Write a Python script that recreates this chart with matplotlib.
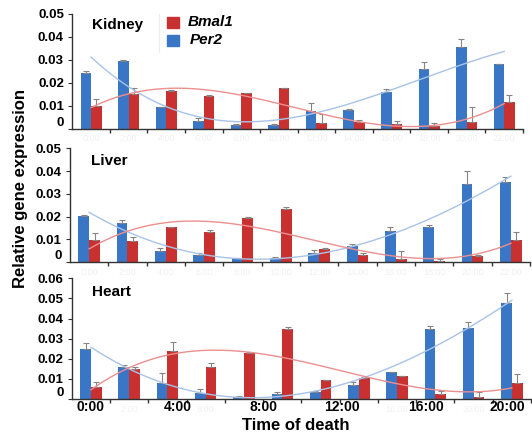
import numpy as np
import matplotlib
matplotlib.use("Agg")
import matplotlib.pyplot as plt
from matplotlib.patches import Rectangle

# ---------------- data ----------------
times = ["0:00", "2:00", "4:00", "6:00", "8:00", "10:00",
         "12:00", "14:00", "16:00", "18:00", "20:00", "22:00"]
shown_labels = ["0:00", "4:00", "8:00", "12:00", "16:00", "20:00"]
shown_label_pos = [0.0, 2.26, 4.52, 6.57, 8.76, 10.89]

kidney_per2 = [0.0241, 0.0295, 0.0095, 0.0033, 0.0015, 0.0015,
               0.0076, 0.0081, 0.0158, 0.0260, 0.0358, 0.0280]
kidney_per2_err = [0.0011, 0.0003, 0.0001, 0.0012, 0.0003, 0.0004,
                   0.0036, 0.0003, 0.0014, 0.0029, 0.0032, 0.0002]
kidney_bmal1 = [0.0100, 0.0149, 0.0165, 0.0143, 0.0154, 0.0176,
                0.0025, 0.0027, 0.0020, 0.0011, 0.0030, 0.0117]
kidney_bmal1_err = [0.0028, 0.0029, 0.0002, 0.0005, 0.0002, 0.0003,
                    0.0037, 0.0009, 0.0013, 0.0015, 0.0065, 0.0029]

liver_per2 = [0.0203, 0.0170, 0.0048, 0.0031, 0.0016, 0.0016,
              0.0041, 0.0070, 0.0137, 0.0153, 0.0342, 0.0354]
liver_per2_err = [0.0002, 0.0015, 0.0012, 0.0007, 0.0001, 0.0007,
                  0.0012, 0.0008, 0.0016, 0.0009, 0.0060, 0.0019]
liver_bmal1 = [0.0097, 0.0094, 0.0153, 0.0132, 0.0195, 0.0233,
               0.0057, 0.0031, 0.0013, 0.0005, 0.0026, 0.0097]
liver_bmal1_err = [0.0032, 0.0018, 0.0003, 0.0009, 0.0004, 0.0010,
                   0.0004, 0.0007, 0.0035, 0.0009, 0.0006, 0.0037]

heart_per2 = [0.0248, 0.0157, 0.0078, 0.0028, 0.0011, 0.0023,
              0.0036, 0.0069, 0.0132, 0.0348, 0.0355, 0.0477]
heart_per2_err = [0.0031, 0.0012, 0.0050, 0.0020, 0.0002, 0.0010,
                  0.0003, 0.0015, 0.0003, 0.0016, 0.0028, 0.0050]
heart_bmal1 = [0.0058, 0.0147, 0.0239, 0.0160, 0.0229, 0.0348,
               0.0094, 0.0102, 0.0114, 0.0023, 0.0008, 0.0078]
heart_bmal1_err = [0.0028, 0.0010, 0.0045, 0.0020, 0.0005, 0.0010,
                   0.0002, 0.0008, 0.0002, 0.0018, 0.0025, 0.0046]

tissues = ["Kidney", "Liver", "Heart"]
y_max = [0.05, 0.05, 0.06]

# ---------------- style ----------------
plt.rcParams['font.family'] = ['Liberation Sans', 'DejaVu Sans']
BLUE = '#3a76c6'
RED = '#c93131'
BLUE_TR = '#a8c3e8'
RED_TR = '#ec8f8f'
ERR = '#858585'
AX = '#333333'
GHOST = '#f1f1f1'

fig = plt.figure(figsize=(5.32, 4.34), dpi=100)
W, H = 532.0, 434.0

def px_axes(left, right, y0, ytop):
    return fig.add_axes([left / W, (H - y0) / H, (right - left) / W, (y0 - ytop) / H])

axes = [px_axes(72.3, 523, 128.5, 14.0),
        px_axes(70.0, 530, 262.0, 148.3),
        px_axes(71.8, 531, 399.0, 278.3)]

series = [(kidney_per2, kidney_per2_err, kidney_bmal1, kidney_bmal1_err),
          (liver_per2, liver_per2_err, liver_bmal1, liver_bmal1_err),
          (heart_per2, heart_per2_err, heart_bmal1, heart_bmal1_err)]

x = np.arange(len(times))
bw = 0.28
title_pos = [(0.043, 0.904), (0.046, 0.891), (0.043, 0.889)]

for i, ax in enumerate(axes):
    per2, per2_e, bmal, bmal_e = series[i]
    ax.bar(x - bw / 2, per2, bw, color=BLUE, zorder=2)
    ax.bar(x + bw / 2, bmal, bw, color=RED, zorder=2)
    ax.errorbar(x - bw / 2, per2, yerr=[np.zeros(len(x)), per2_e], fmt='none',
                ecolor=ERR, elinewidth=0.8, capsize=2, capthick=0.8, zorder=3)
    ax.errorbar(x + bw / 2, bmal, yerr=[np.zeros(len(x)), bmal_e], fmt='none',
                ecolor=ERR, elinewidth=0.8, capsize=2, capthick=0.8, zorder=3)
    # polynomial trend lines (order 3)
    xs = np.linspace(0, len(x) - 1, 200)
    pb = np.polyfit(x, per2, 3)
    pr = np.polyfit(x, bmal, 3)
    ax.plot(xs, np.polyval(pb, xs), color=BLUE_TR, lw=1.0, zorder=4)
    ax.plot(xs, np.polyval(pr, xs), color=RED_TR, lw=1.0, zorder=4)

    ax.set_xlim(-0.5, len(x) - 0.5)
    ax.set_ylim(0, y_max[i])
    for s in ['top', 'right']:
        ax.spines[s].set_visible(False)
    for s in ['left', 'bottom']:
        ax.spines[s].set_color(AX)
        ax.spines[s].set_linewidth(1.0)

    # faint per-group time labels (hidden where a bold label sits)
    ghost = list(times)
    if i == 2:
        ghost = [t if min(abs(k - p) for p in shown_label_pos) > 0.7 else ''
                 for k, t in enumerate(times)]
    ax.set_xticks(x)
    ax.set_xticklabels(ghost, fontsize=6.5, color=GHOST)
    ax.tick_params(axis='x', which='major', length=0, pad=4)
    ax.set_xticks(np.arange(len(x)) + 0.5, minor=True)
    ax.tick_params(axis='x', which='minor', length=3, direction='out', color=AX, width=1)

    yt = np.round(np.arange(0, y_max[i] + 1e-9, 0.01), 2)
    ax.set_yticks(yt)
    ax.set_yticklabels(['0'] + ['%.2f' % v for v in yt[1:]],
                       fontsize=9.5, fontweight='bold')
    ax.tick_params(axis='y', length=3, direction='out', color=AX, pad=3)
    ax.get_yticklabels()[0].set_verticalalignment('bottom')

    ax.text(title_pos[i][0], title_pos[i][1], tissues[i], transform=ax.transAxes,
            fontsize=11, fontweight='bold', ha='left', va='center')

# legend in top panel
ax0 = axes[0]
ax0.plot([0.1924, 0.1924], [0.668, 1.0], transform=ax0.transAxes,
         color='#ececec', lw=0.8, clip_on=False)
ax0.add_patch(Rectangle((0.2108, 0.880), 0.0266, 0.096, transform=ax0.transAxes,
                        color=RED, clip_on=False, zorder=5))
ax0.add_patch(Rectangle((0.2108, 0.723), 0.0266, 0.0935, transform=ax0.transAxes,
                        color=BLUE, clip_on=False, zorder=5))
ax0.text(0.257, 0.928, "Bmal1", transform=ax0.transAxes, fontsize=11,
         fontweight='bold', fontstyle='italic', ha='left', va='center')
ax0.text(0.261, 0.770, "Per2", transform=ax0.transAxes, fontsize=11,
         fontweight='bold', fontstyle='italic', ha='left', va='center')

# bold time labels on bottom panel
ax2 = axes[2]
for lab, pos in zip(shown_labels, shown_label_pos):
    ax2.text(pos, -0.064, lab, transform=ax2.get_xaxis_transform(),
             fontsize=10, fontweight='bold', ha='center', va='center')

fig.text(295.5 / W, 1 - 425 / H, "Time of death", fontsize=12, fontweight='bold',
         ha='center', va='center')
fig.text(21 / W, 1 - 188.5 / H, "Relative gene expression", fontsize=12,
         fontweight='bold', ha='center', va='center', rotation=90)

fig.savefig("out.png", dpi=100)
